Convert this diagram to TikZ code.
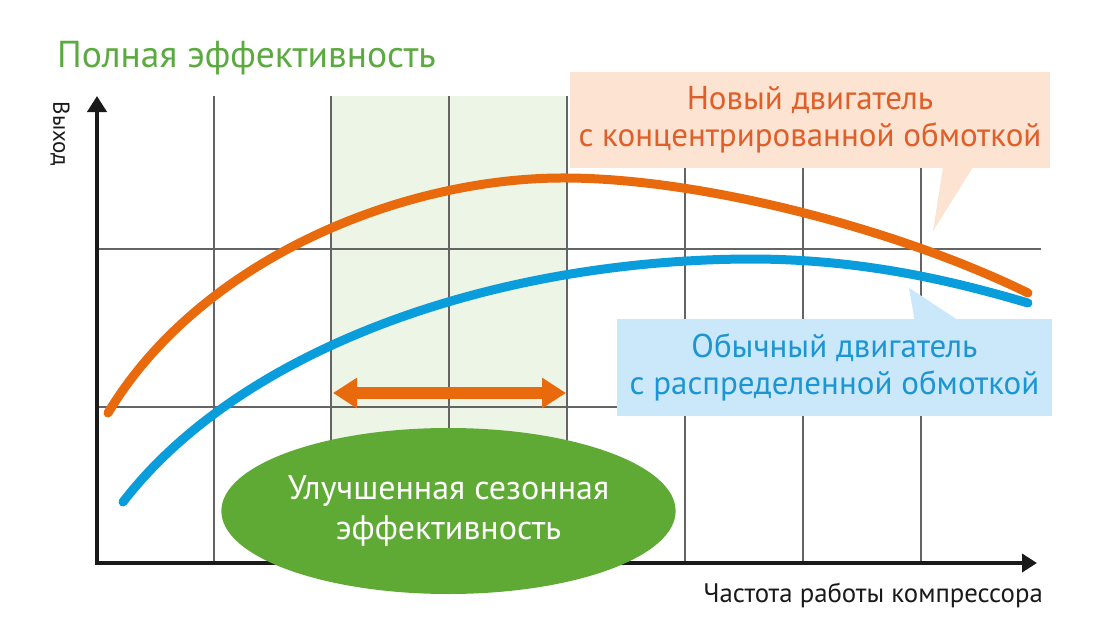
\documentclass[tikz,border=0pt]{standalone}
\usepackage{fontspec}
\setmainfont{PT Sans}
\usetikzlibrary{arrows.meta,shapes.geometric}
\definecolor{titlegreen}{RGB}{91,170,63}
\definecolor{ovalgreen}{RGB}{94,170,52}
\definecolor{bandgreen}{RGB}{237,245,230}
\definecolor{curveorange}{RGB}{232,106,12}
\definecolor{textorange}{RGB}{224,94,40}
\definecolor{boxorange}{RGB}{252,227,210}
\definecolor{curveblue}{RGB}{10,157,220}
\definecolor{textblue}{RGB}{28,150,210}
\definecolor{boxblue}{RGB}{202,232,250}
\definecolor{gridgray}{RGB}{100,100,100}
\definecolor{axisblack}{RGB}{26,26,26}
\tikzset{
  gridline/.style={color=gridgray, line width=1.3pt},
  curve/.style={line width=9pt, line cap=round},
  callout/.style={inner sep=0pt, align=center, font=\fontsize{33pt}{37pt}\selectfont},
}
\begin{document}
\begin{tikzpicture}
\useasboundingbox (0pt,0pt) rectangle (1109pt,-632pt);
\fill[color=bandgreen] (331pt,-96pt) rectangle (568pt,-563pt);
\foreach \gx in {214,331,449,567,685,803,921}
  \draw[gridline] (\gx pt,-96pt) -- (\gx pt,-563pt);
\foreach \gy in {249,407}
  \draw[gridline] (97pt,-\gy pt) -- (1041pt,-\gy pt);
\coordinate (origin) at (97pt,-563pt);
\coordinate (ytip) at (97pt,-96pt);
\coordinate (xtip) at (1037pt,-563pt);
\draw[color=axisblack, line width=4pt, {Triangle[length=16pt,width=19pt]}-{Triangle[length=15pt,width=18pt]}] (ytip) -- (origin) -- (xtip);
\node[anchor=base west, inner sep=0pt, text=titlegreen, font=\fontsize{37.5pt}{40pt}\selectfont] (title) at (57pt,-67pt) {Полная эффективность};
\node[rotate=-90, inner sep=0pt, text=axisblack, font=\fontsize{23pt}{28pt}\selectfont] (ylabel) at (60pt,-134pt) {Выход};
\node[anchor=base east, inner sep=0pt, text=axisblack, font=\fontsize{26.8pt}{30pt}\selectfont] (xlabel) at (1043pt,-602pt) {Частота работы компрессора};
\draw[curve, color=curveorange] (108pt,-413pt) .. controls (200pt,-260pt) and (400pt,-179pt) .. (560pt,-178pt)
  .. controls (700pt,-177pt) and (900pt,-230pt) .. (1028pt,-293pt);
\draw[curve, color=curveblue] (123pt,-502pt) .. controls (240pt,-350pt) and (490pt,-260pt) .. (750pt,-259pt)
  .. controls (860pt,-259pt) and (950pt,-280pt) .. (1028pt,-303pt);
\node[callout, fill=boxorange, text=textorange, minimum width=480pt, minimum height=96pt] (newmotor) at (810pt,-120pt) {Новый двигатель\\с концентрированной обмоткой};
\fill[color=boxorange] ([xshift=133pt,yshift=1pt]newmotor.south) -- ([xshift=163pt,yshift=1pt]newmotor.south) -- ([xshift=123pt,yshift=-63pt]newmotor.south) -- cycle;
\node[callout, fill=boxblue, text=textblue, minimum width=435pt, minimum height=97pt] (oldmotor) at (834.5pt,-367.5pt) {Обычный двигатель\\с распределенной обмоткой};
\fill[color=boxblue] ([xshift=80pt,yshift=-1pt]oldmotor.north) -- ([xshift=123pt,yshift=-1pt]oldmotor.north) -- ([xshift=74.5pt,yshift=31pt]oldmotor.north) -- cycle;
\coordinate (seasonL) at (333pt,-393pt);
\coordinate (seasonR) at (566pt,-393pt);
\draw[color=curveorange, line width=12pt, {Triangle[length=24pt,width=29pt]}-{Triangle[length=24pt,width=29pt]}] (seasonL) -- (seasonR);
\node[ellipse, fill=ovalgreen, text=white, minimum width=448pt, minimum height=166pt, inner sep=0pt, align=center, font=\fontsize{34pt}{40pt}\selectfont] (seasonal) at (448.5pt,-511pt) {Улучшенная сезонная\\эффективность};
\end{tikzpicture}
\end{document}
